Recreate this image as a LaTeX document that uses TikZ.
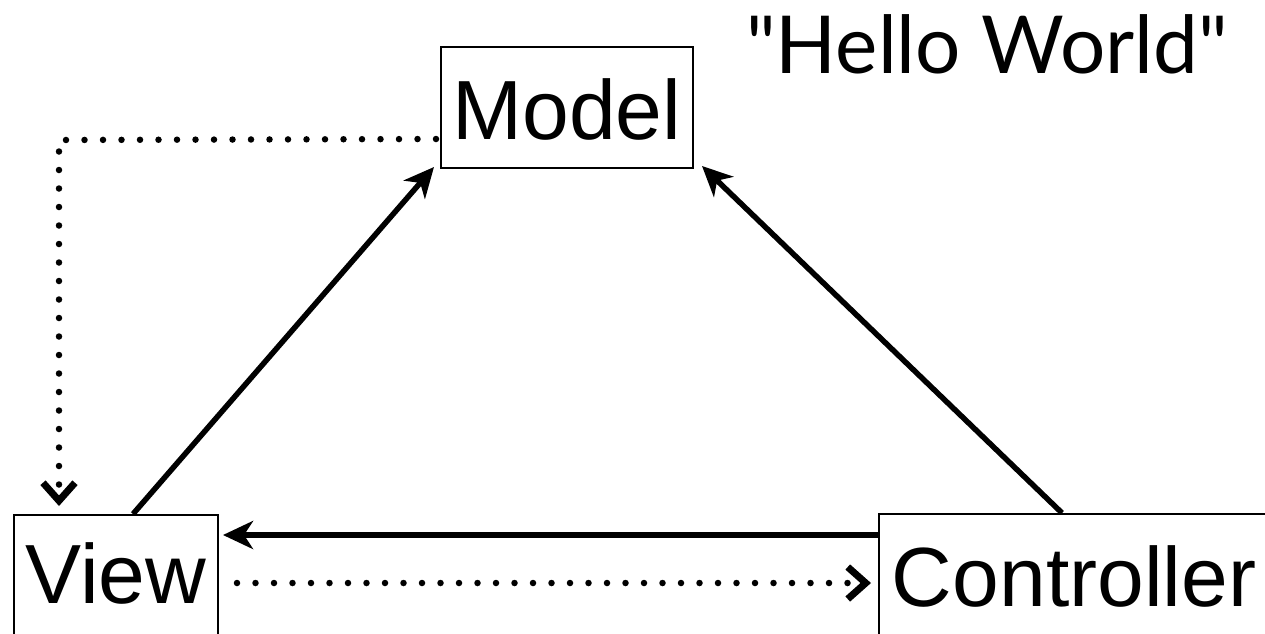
\documentclass[tikz,border=0pt]{standalone}
\usepackage{fontspec}
\setmainfont{Liberation Sans}
\newfontfamily\hellofont{Lato}
\usetikzlibrary{arrows.meta,calc}
\tikzset{
  box/.style={draw, line width=2pt, inner sep=0pt, anchor=base,
    font=\fontsize{84}{88}\selectfont},
  solidarrow/.style={line width=5.5pt, -{Stealth[length=30pt,width=28pt,inset=9pt]}},
  dotarrow/.style={line width=6.5pt, line cap=round, dash pattern=on 0pt off 18.5pt,
    -{Straight Barb[length=18pt,width=32pt,line cap=butt,line join=miter,line width=7pt]}},
}
\begin{document}
\begin{tikzpicture}[x=1pt,y=-1pt]
\useasboundingbox (0,0) rectangle (1265,633);
\clip (0,0) rectangle (1265,633);
\fill[white] (0,0) rectangle (1265,633);
\node[box, minimum width=252pt, text height=92pt, text depth=29pt] (Model) at (567,139) {Model};
\node[box, minimum width=204pt, text height=88pt, text depth=45pt] (View) at (116,603) {View};
\node[box, minimum width=390pt, text height=92pt, text depth=45pt] (Controller) at (1074,606) {Controller};
\node[anchor=base west, inner sep=0pt, font=\hellofont\fontsize{80}{84}\selectfont] (hello) at (746,73) {"Hello World"};
% solid arrows
\draw[solidarrow] ($(View.north)+(17,0)$) -- ($(Model.south west)+(-6,-2)$);
\draw[solidarrow] ($(Controller.north)+(-12,0)$) -- ($(Model.south east)+(8,-3)$);
\draw[solidarrow] ($(Controller.north west)+(0,22)$) -- ($(View.north east)+(4,21)$);
% dotted arrows
\draw[dotarrow] ($(View.north east)+(18,69)$) -- ($(Controller.north west)+(-7,70)$);
\draw[dotarrow] ($(Model.north west)+(-4,93)$) -- ($(View.north west)+(46,-374)$) -- ($(View.north west)+(46,-8)$);
\end{tikzpicture}
\end{document}
